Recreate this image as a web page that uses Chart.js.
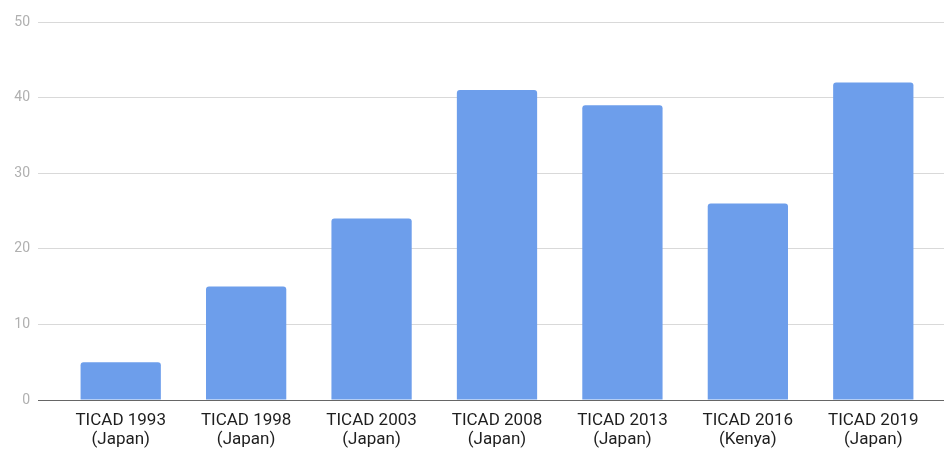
<!DOCTYPE html>
<html>
<head>
<meta charset="utf-8">
<script src="https://cdn.jsdelivr.net/npm/chart.js@4/dist/chart.umd.min.js"></script>
<style>
html,body{margin:0;padding:0;background:#fff;}
#wrap{width:944px;height:451px;position:relative;}
</style>
</head>
<body>
<div id="wrap"><canvas id="c"></canvas></div>
<script>
const categories = [
  ["TICAD 1993","(Japan)"],
  ["TICAD 1998","(Japan)"],
  ["TICAD 2003","(Japan)"],
  ["TICAD 2008","(Japan)"],
  ["TICAD 2013","(Japan)"],
  ["TICAD 2016","(Kenya)"],
  ["TICAD 2019","(Japan)"]
];
const values = [5, 15, 24, 41, 39, 26, 42];
const yTicks = [0, 10, 20, 30, 40, 50];

function alignPx(p) { return Math.round(p - 0.5) + 0.5; }

const extendGrid = {
  id: 'extendGrid',
  beforeDatasetsDraw(chart) {
    const {ctx, chartArea, scales: {y}} = chart;
    ctx.save();
    ctx.lineWidth = 1;
    yTicks.forEach(v => {
      const py = alignPx(y.getPixelForValue(v));
      ctx.strokeStyle = v === 0 ? '#666666' : '#d9d9d9';
      ctx.beginPath();
      ctx.moveTo(chartArea.right - 1, py);
      ctx.lineTo(chart.width, py);
      ctx.stroke();
    });
    ctx.restore();
  },
  afterDatasetsDraw(chart) {
    const {ctx, chartArea, scales: {y}} = chart;
    const py = alignPx(y.getPixelForValue(0));
    ctx.save();
    ctx.strokeStyle = '#666666';
    ctx.lineWidth = 1;
    ctx.beginPath();
    ctx.moveTo(chartArea.left - 20, py);
    ctx.lineTo(chart.width, py);
    ctx.stroke();
    ctx.restore();
  }
};

new Chart(document.getElementById('c'), {
  type: 'bar',
  data: {
    labels: categories,
    datasets: [{
      data: values,
      backgroundColor: '#6d9eeb',
      borderRadius: {topLeft: 3, topRight: 3, bottomLeft: 0, bottomRight: 0},
      borderSkipped: 'bottom',
      barPercentage: 0.64,
      categoryPercentage: 1.0
    }]
  },
  options: {
    responsive: true,
    maintainAspectRatio: false,
    animation: false,
    layout: {padding: {top: 22, right: 8, left: 0, bottom: 0}},
    plugins: {legend: {display: false}, tooltip: {enabled: false}},
    scales: {
      x: {
        afterFit(scale) { scale.height = 51; },
        grid: {display: false, drawTicks: false, tickLength: 0},
        border: {display: false},
        ticks: {
          color: '#1e1e1e',
          font: {family: 'Roboto', size: 17, lineHeight: 1.12},
          padding: 11,
          maxRotation: 0,
          autoSkip: false
        }
      },
      y: {
        min: 0,
        max: 50,
        afterFit(scale) { scale.width = 58; },
        afterBuildTicks(scale) { scale.ticks = yTicks.map(v => ({value: v})); },
        border: {display: false},
        grid: {
          color: ctx => ctx.tick && ctx.tick.value === 0 ? '#666666' : '#d9d9d9',
          tickLength: 20,
          drawTicks: true,
          lineWidth: 1
        },
        ticks: {
          color: '#b0b0b0',
          font: {family: 'Roboto', size: 14},
          padding: 8
        }
      }
    }
  },
  plugins: [extendGrid]
});
</script>
</body>
</html>
